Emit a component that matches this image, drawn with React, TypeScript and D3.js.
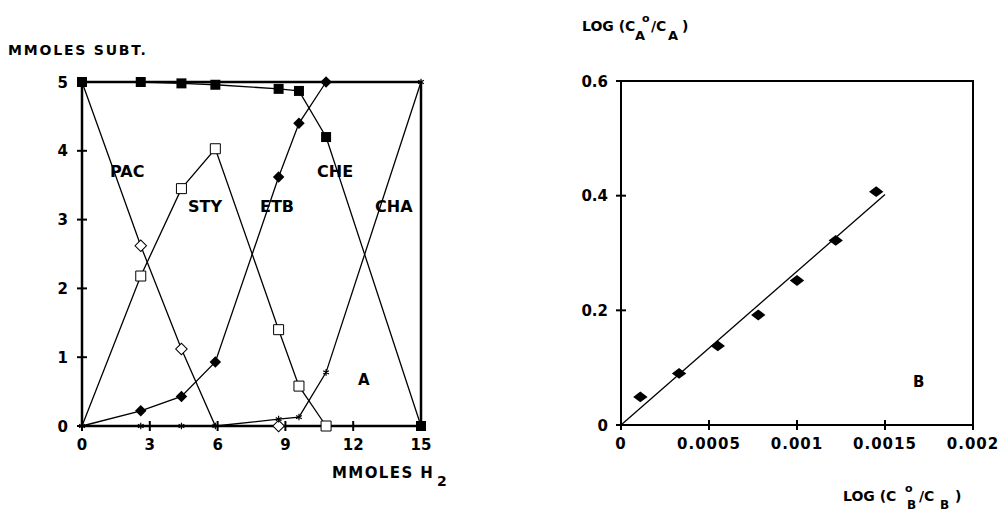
import * as d3 from 'd3';

// left panel: mmoles of substrate vs mmoles H2
const h2Values = [0, 2.6, 4.4, 5.9, 8.7, 9.6, 10.8, 15];
const cheValues = [5, 5, 4.98, 4.96, 4.9, 4.87, 4.2, 0];
const etbValues = [0, 0.22, 0.43, 0.93, 3.62, 4.4, 5, null];
const styValues = [0, 2.18, 3.45, 4.03, 1.4, 0.58, 0, null];
const pacValues = [5, 2.62, 1.12, 0, 0, null, null, null];
const chaValues = [0, 0, 0, 0, 0.1, 0.13, 0.78, 5];
const leftXTicks = [0, 3, 6, 9, 12, 15];
const leftYTicks = [0, 1, 2, 3, 4, 5];

// right panel: log(CoA/CA) vs log(CoB/CB)
const logCb = [0.00011, 0.00033, 0.00055, 0.00078, 0.001, 0.00122, 0.00145];
const logCa = [0.049, 0.09, 0.138, 0.192, 0.252, 0.322, 0.407];
const fitX = [0, 0.0015];
const fitY = [0, 0.402];
const rightXTicks = ['0', '0.0005', '0.001', '0.0015', '0.002'];
const rightYTicks = ['0', '0.2', '0.4', '0.6'];

const font = 'DejaVu Sans, sans-serif';
const ink = '#000';

type Pt = { x: number; y: number | null };
const pts = (ys: (number | null)[]): Pt[] => h2Values.map((x, i) => ({ x, y: ys[i] }));

export default function App() {
  // left scales
  const lx = d3.scaleLinear().domain([0, 15]).range([82, 421]);
  const ly = d3.scaleLinear().domain([0, 5]).range([426, 82]);
  // right scales
  const rx = d3.scaleLinear().domain([0, 0.002]).range([621, 973]);
  const ry = d3.scaleLinear().domain([0, 0.6]).range([425, 81]);

  const line = d3
    .line<Pt>()
    .defined((d) => d.y != null)
    .x((d) => lx(d.x))
    .y((d) => ly(d.y as number));

  const square = d3.symbol().type(d3.symbolSquare).size(100)()!;
  const diamond = d3.symbol().type(d3.symbolSquare).size(66)()!;
  const star = d3.symbol().type(d3.symbolAsterisk).size(30)()!;

  // markers hidden where another marker sits on top in the original figure
  const series = [
    { ys: cheValues, kind: 'fsquare', hide: [] as number[] },
    { ys: etbValues, kind: 'fdiamond', hide: [0] },
    { ys: styValues, kind: 'osquare', hide: [0] },
    { ys: pacValues, kind: 'odiamond', hide: [0, 3] },
    { ys: chaValues, kind: 'star', hide: [] as number[] },
  ];

  const marker = (kind: string, x: number, y: number, key: string) => {
    const t = `translate(${x},${y})`;
    if (kind === 'fsquare') return <path key={key} d={square} transform={t} fill={ink} />;
    if (kind === 'osquare')
      return <path key={key} d={square} transform={t} fill="#fff" stroke={ink} strokeWidth={1} />;
    if (kind === 'fdiamond')
      return <path key={key} d={diamond} transform={`${t} rotate(45)`} fill={ink} />;
    if (kind === 'odiamond')
      return (
        <path key={key} d={diamond} transform={`${t} rotate(45)`} fill="#fff" stroke={ink} strokeWidth={1} />
      );
    return <path key={key} d={star} transform={t} fill="none" stroke={ink} strokeWidth={1.2} />;
  };

  const tickStyle = { fontFamily: font, fontWeight: 700, fontSize: 15, fill: ink } as const;
  const labelStyle = { fontFamily: font, fontWeight: 700, fontSize: 16, fill: ink } as const;
  const titleStyle = { fontFamily: font, fontWeight: 700, fontSize: 14, fill: ink } as const;

  return (
    <div style={{ position: 'fixed', left: 0, top: 0 }}>
      <svg width={1002} height={512} style={{ display: 'block', background: '#fff' }}>
        {/* ---------- left panel ---------- */}
        <text x={8} y={55} {...titleStyle} letterSpacing={1.8}>
          MMOLES SUBT.
        </text>

        {series.map((s, i) => (
          <path key={i} d={line(pts(s.ys))!} fill="none" stroke={ink} strokeWidth={1.3} />
        ))}

        <rect
          x={lx(0)}
          y={ly(5)}
          width={lx(15) - lx(0)}
          height={ly(0) - ly(5)}
          fill="none"
          stroke={ink}
          strokeWidth={2.5}
        />
        {leftYTicks.map((t) => (
          <g key={'ly' + t}>
            <line x1={lx(0) - 5} x2={lx(0) + 5} y1={ly(t)} y2={ly(t)} stroke={ink} strokeWidth={2} />
            <text x={68} y={ly(t) + 5.5} textAnchor="end" {...tickStyle}>
              {t}
            </text>
          </g>
        ))}
        {leftXTicks.map((t) => (
          <g key={'lx' + t}>
            <line x1={lx(t)} x2={lx(t)} y1={ly(0) - 5} y2={ly(0) + 5} stroke={ink} strokeWidth={2} />
            <text x={lx(t)} y={450} textAnchor="middle" {...tickStyle}>
              {t}
            </text>
          </g>
        ))}

        {series.map((s, i) =>
          pts(s.ys).map((d, j) =>
            d.y == null || s.hide.includes(j)
              ? null
              : marker(s.kind, lx(d.x), ly(d.y), `m${i}-${j}`),
          ),
        )}

        <text x={110} y={177} {...labelStyle}>PAC</text>
        <text x={188} y={212} {...labelStyle}>STY</text>
        <text x={260} y={212} {...labelStyle}>ETB</text>
        <text x={317} y={177} {...labelStyle}>CHE</text>
        <text x={375} y={212} {...labelStyle}>CHA</text>
        <text x={358} y={385} {...labelStyle} fontSize={15}>A</text>

        <text x={332} y={478} {...titleStyle} fontSize={15} letterSpacing={1.4}>
          MMOLES H
        </text>
        <text x={437} y={486} {...titleStyle}>
          2
        </text>

        {/* ---------- right panel ---------- */}
        <text x={582} y={31} {...titleStyle}>LOG (C</text>
        <text x={642} y={22} {...titleStyle} fontSize={11}>o</text>
        <text x={635} y={40} {...titleStyle} fontSize={13}>A</text>
        <text x={651} y={31} {...titleStyle}>/C</text>
        <text x={668} y={40} {...titleStyle} fontSize={13}>A</text>
        <text x={682} y={31} {...titleStyle}>)</text>

        <rect
          x={rx(0)}
          y={ry(0.6)}
          width={rx(0.002) - rx(0)}
          height={ry(0) - ry(0.6)}
          fill="none"
          stroke={ink}
          strokeWidth={2}
        />
        {rightYTicks.map((t) => (
          <g key={'ry' + t}>
            <line x1={rx(0) - 5} x2={rx(0) + 5} y1={ry(+t)} y2={ry(+t)} stroke={ink} strokeWidth={2} />
            <text x={608} y={ry(+t) + 5.5} textAnchor="end" {...tickStyle}>
              {t}
            </text>
          </g>
        ))}
        {rightXTicks.map((t) => (
          <g key={'rx' + t}>
            <line x1={rx(+t)} x2={rx(+t)} y1={ry(0) - 5} y2={ry(0) + 5} stroke={ink} strokeWidth={2} />
            <text x={rx(+t)} y={449} textAnchor="middle" {...tickStyle} letterSpacing={1}>
              {t}
            </text>
          </g>
        ))}

        <line
          x1={rx(fitX[0])}
          y1={ry(fitY[0])}
          x2={rx(fitX[1])}
          y2={ry(fitY[1])}
          stroke={ink}
          strokeWidth={1.3}
        />
        {logCb.map((x, i) => (
          <path
            key={'rp' + i}
            d={diamond}
            transform={`translate(${rx(x)},${ry(logCa[i])}) scale(1.25,0.95) rotate(45)`}
            fill={ink}
          />
        ))}

        <text x={913} y={387} {...labelStyle} fontSize={15}>B</text>

        <text x={843} y={501} {...titleStyle}>LOG (C</text>
        <text x={905} y={492} {...titleStyle} fontSize={11}>o</text>
        <text x={907} y={509} {...titleStyle} fontSize={12}>B</text>
        <text x={919} y={501} {...titleStyle}>/C</text>
        <text x={940} y={509} {...titleStyle} fontSize={12}>B</text>
        <text x={955} y={501} {...titleStyle}>)</text>
      </svg>
    </div>
  );
}
